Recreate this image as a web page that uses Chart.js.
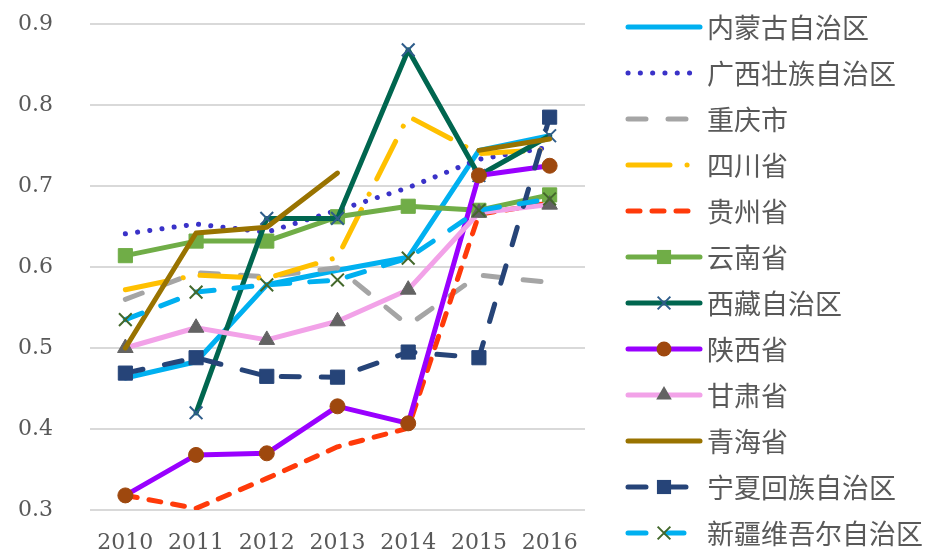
<!DOCTYPE html>
<html>
<head>
<meta charset="utf-8">
<script src="https://cdn.jsdelivr.net/npm/chart.js@4/dist/chart.umd.min.js"></script>
<style>
  html, body { margin: 0; padding: 0; background: #fff; }
  #wrap { width: 930px; height: 553px; }
</style>
</head>
<body>
<div id="wrap"><canvas id="lineChart" width="930" height="553"></canvas></div>
<script>
const years = ['2010', '2011', '2012', '2013', '2014', '2015', '2016'];
const yTicks = [0.3, 0.4, 0.5, 0.6, 0.7, 0.8, 0.9];

const neimenggu = [0.463, 0.483, 0.578, 0.596, 0.612, 0.744, 0.762];
const guangxi   = [0.641, 0.653, 0.643, 0.670, 0.698, 0.733, 0.748];
const chongqing = [0.560, 0.593, 0.588, 0.599, 0.528, 0.590, 0.581];
const sichuan   = [0.572, 0.590, 0.586, 0.612, 0.786, 0.740, 0.745];
const guizhou   = [0.318, 0.302, 0.339, 0.378, 0.401, 0.665, 0.679];
const yunnan    = [0.614, 0.632, 0.632, 0.662, 0.675, 0.670, 0.689];
const xizang    = [null, 0.420, 0.660, 0.660, 0.868, 0.713, 0.762];
const shaanxi   = [0.318, 0.368, 0.370, 0.428, 0.407, 0.713, 0.725];
const gansu     = [0.500, 0.525, 0.510, 0.533, 0.572, 0.667, 0.677];
const qinghai   = [0.500, 0.642, 0.649, 0.716, null, 0.744, 0.758];
const ningxia   = [0.469, 0.488, 0.465, 0.464, 0.495, 0.488, 0.785];
const xinjiang  = [0.535, 0.569, 0.578, 0.584, 0.611, 0.670, 0.684];

const names = ['内蒙古自治区', '广西壮族自治区', '重庆市', '四川省', '贵州省', '云南省',
               '西藏自治区', '陕西省', '甘肃省', '青海省', '宁夏回族自治区', '新疆维吾尔自治区'];

// line style per series: colour, dash, marker
const styles = [
    { color: '#00B0F0', dash: [], point: false },
    { color: '#3A32C8', dash: [0.1, 12.2], point: false },
    { color: '#A5A5A5', dash: [18, 22], point: false },
    { color: '#FFC000', dash: [42, 17, 0.1, 17], point: false },
    { color: '#FF3A0A', dash: [12, 12], point: false },
    { color: '#70AD47', dash: [], point: 'rect', pColor: '#70AD47', r: 10 },
    { color: '#00664F', dash: [], point: 'crossRot', pColor: '#2E5C8A', r: 9 },
    { color: '#9900FF', dash: [], point: 'circle', pColor: '#9E480E', r: 7.5 },
    { color: '#F2A2E8', dash: [], point: 'triangle', pColor: '#636363', r: 9 },
    { color: '#997300', dash: [], point: false },
    { color: '#264478', dash: [18, 22], point: 'rect', pColor: '#264478', r: 10 },
    { color: '#00B0F0', dash: [18, 20], point: 'crossRot', pColor: '#43682B', r: 9 }
];

const seriesData = [neimenggu, guangxi, chongqing, sichuan, guizhou, yunnan,
                    xizang, shaanxi, gansu, qinghai, ningxia, xinjiang];

const datasets = seriesData.map((d, i) => {
    const s = styles[i];
    const cross = s.point === 'crossRot';
    return {
        label: names[i],
        data: d,
        borderColor: s.color,
        backgroundColor: s.color,
        borderWidth: 5,
        borderDash: s.dash,
        borderCapStyle: 'round',
        borderJoinStyle: 'round',
        tension: 0,
        order: -i,
        pointStyle: s.point || 'circle',
        pointRadius: s.point ? s.r : 0,
        pointHoverRadius: s.point ? s.r : 0,
        pointBackgroundColor: s.point ? s.pColor : s.color,
        pointBorderColor: s.point ? s.pColor : s.color,
        pointBorderWidth: cross ? 2 : 1
    };
});

function drawMarker(ctx, style, x, y, r, color, bw) {
    ctx.save();
    ctx.fillStyle = color;
    ctx.strokeStyle = color;
    ctx.lineWidth = bw;
    ctx.setLineDash([]);
    ctx.beginPath();
    if (style === 'rect') {
        const h = r * Math.SQRT1_2;
        ctx.rect(x - h, y - h, 2 * h, 2 * h);
        ctx.fill();
    } else if (style === 'circle') {
        ctx.arc(x, y, r, 0, Math.PI * 2);
        ctx.fill();
    } else if (style === 'triangle') {
        ctx.moveTo(x, y - r);
        ctx.lineTo(x + r * Math.sin(Math.PI / 3), y + r / 2);
        ctx.lineTo(x - r * Math.sin(Math.PI / 3), y + r / 2);
        ctx.closePath();
        ctx.fill();
    } else if (style === 'crossRot') {
        const o = r * Math.SQRT1_2;
        ctx.moveTo(x - o, y - o); ctx.lineTo(x + o, y + o);
        ctx.moveTo(x - o, y + o); ctx.lineTo(x + o, y - o);
        ctx.stroke();
    }
    ctx.restore();
}

// legend on the right, one line sample per series
const sideLegend = {
    id: 'sideLegend',
    afterDraw(chart) {
        const ctx = chart.ctx;
        const x0 = 628, x1 = 700, top = 27, step = 46;
        chart.data.datasets.forEach((ds, i) => {
            const s = styles[i];
            const y = top + i * step;
            ctx.save();
            ctx.strokeStyle = ds.borderColor;
            ctx.lineWidth = 5;
            ctx.lineCap = 'round';
            ctx.setLineDash(s.dash);
            ctx.beginPath();
            ctx.moveTo(x0, y);
            ctx.lineTo(x1, y);
            ctx.stroke();
            ctx.restore();
            if (s.point) {
                drawMarker(ctx, s.point, (x0 + x1) / 2, y, s.r, s.pColor, s.point === 'crossRot' ? 2 : 1);
            }
            ctx.save();
            ctx.fillStyle = '#595959';
            ctx.font = '27px "Noto Sans CJK SC"';
            ctx.textBaseline = 'middle';
            ctx.fillText(ds.label, 707, y + 1);
            ctx.restore();
        });
    }
};

new Chart(document.getElementById('lineChart'), {
    type: 'line',
    data: { labels: years, datasets: datasets },
    options: {
        responsive: false,
        animation: false,
        layout: { padding: { top: 24, right: 345, left: 0, bottom: 0 } },
        scales: {
            x: {
                grid: { display: false },
                border: { display: false },
                offset: true,
                ticks: {
                    color: '#595959',
                    font: { family: '"DejaVu Serif"', size: 22 },
                    padding: 12,
                    maxRotation: 0
                },
                afterFit: (scale) => { scale.height = 43; }
            },
            y: {
                min: yTicks[0],
                max: yTicks[yTicks.length - 1],
                afterBuildTicks: (scale) => { scale.ticks = yTicks.map(v => ({ value: v })); },
                grid: { color: '#D9D9D9', lineWidth: 2, drawTicks: true, tickLength: 36, tickColor: 'rgba(0,0,0,0)' },
                border: { display: false },
                ticks: {
                    color: '#595959',
                    font: { family: '"DejaVu Serif"', size: 22 },
                    padding: 1,
                    callback: (v) => Number(v).toFixed(1)
                },
                afterFit: (scale) => { scale.width = 90; }
            }
        },
        plugins: {
            legend: { display: false },
            tooltip: { enabled: false }
        }
    },
    plugins: [sideLegend]
});
</script>
</body>
</html>
